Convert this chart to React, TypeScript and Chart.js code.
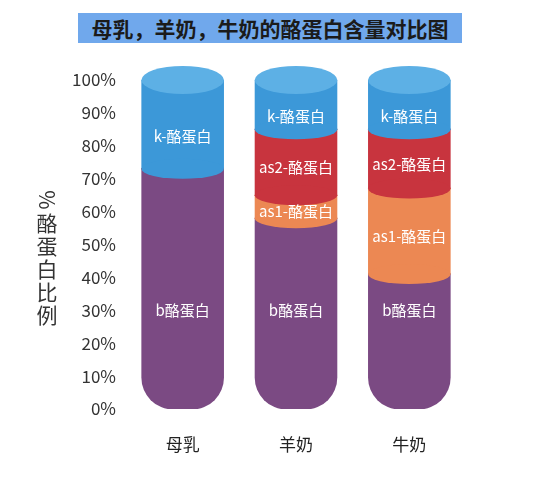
import { useEffect, useRef } from 'react';
import { Chart, registerables } from 'chart.js';

Chart.register(...registerables);

const categories = ['母乳', '羊奶', '牛奶'];
const seriesNames = ['b酪蛋白', 'as1-酪蛋白', 'as2-酪蛋白', 'k-酪蛋白'];
const bCasein = [73, 58, 41];
const as1Casein = [0, 7, 26];
const as2Casein = [0, 20, 18];
const kCasein = [27, 15, 15];
const yTicks = [0, 10, 20, 30, 40, 50, 60, 70, 80, 90, 100];

const yTitle = '%酪蛋白比例';
const chartTitle = '母乳，羊奶，牛奶的酪蛋白含量对比图';

const colors = ['#7b4a83', '#ec8853', '#c8343e', '#3c98d8'];
const topFace = '#5db0e5';
const FONT = '"Noto Sans CJK SC", "Liberation Sans", sans-serif';

const INNER_RY = 10;
const TOP_RY = 14;
const B_LABEL_AT = 30; // b labels all sit near the 30% line

// draws the curved layer fronts, the top face and the white segment labels
const cylinderPlugin = {
  id: 'cylinder',
  afterDatasetsDraw(chart: any) {
    const { ctx } = chart;
    const n = chart.data.datasets.length;
    const yScale = chart.scales.y;
    ctx.save();

    for (let i = 1; i < n; i++) {
      const ds = chart.data.datasets[i];
      chart.getDatasetMeta(i).data.forEach((bar: any, j: number) => {
        if (!(ds.data[j] > 0)) return;
        const { x, base, width } = bar.getProps(['x', 'base', 'width'], true);
        ctx.fillStyle = colors[i];
        ctx.beginPath();
        // full ellipse so the seam between the two rectangles is hidden too
        ctx.ellipse(x, base, width / 2 + 0.5, INNER_RY, 0, 0, Math.PI * 2);
        ctx.fill();
      });
    }

    // top face on whatever segment is highest
    categories.forEach((_, j) => {
      for (let i = n - 1; i >= 0; i--) {
        if (!(chart.data.datasets[i].data[j] > 0)) continue;
        const bar = chart.getDatasetMeta(i).data[j];
        const { x, y, width } = bar.getProps(['x', 'y', 'width'], true);
        ctx.fillStyle = topFace;
        ctx.beginPath();
        ctx.ellipse(x, y, width / 2 + 0.5, TOP_RY, 0, 0, Math.PI * 2);
        ctx.fill();
        break;
      }
    });

    ctx.fillStyle = '#ffffff';
    ctx.font = `15px ${FONT}`;
    ctx.textAlign = 'center';
    ctx.textBaseline = 'middle';
    for (let i = 0; i < n; i++) {
      const ds = chart.data.datasets[i];
      chart.getDatasetMeta(i).data.forEach((bar: any, j: number) => {
        if (!(ds.data[j] > 0)) return;
        const { x, y, base } = bar.getProps(['x', 'y', 'base'], true);
        let ly = (y + base) / 2 + INNER_RY / 2;
        if (i === 0) ly = yScale.getPixelForValue(B_LABEL_AT);
        else if (i === n - 1) ly = (y + base) / 2 + (TOP_RY + INNER_RY) / 2;
        ctx.fillText(ds.label, x, ly);
      });
    }

    // vertical axis title, CJK upright, % turned
    const area = chart.chartArea;
    const tx = area.left - 79;
    let ty = area.top + 120;
    ctx.fillStyle = '#333333';
    ctx.font = `21px ${FONT}`;
    for (const ch of yTitle) {
      if (ch === '%') {
        ctx.save();
        ctx.translate(tx, ty);
        ctx.rotate(Math.PI / 2);
        ctx.fillText(ch, 0, 0);
        ctx.restore();
      } else {
        ctx.fillText(ch, tx, ty);
      }
      ty += 23;
    }
    ctx.restore();
  },
};

const App = () => {
  const canvasRef = useRef<HTMLCanvasElement>(null);
  const chartRef = useRef<Chart | null>(null);

  useEffect(() => {
    if (!canvasRef.current) return;
    const ctx = canvasRef.current.getContext('2d');
    if (!ctx) return;

    if (chartRef.current) {
      chartRef.current.destroy();
    }

    const series = [bCasein, as1Casein, as2Casein, kCasein];

    chartRef.current = new Chart(ctx, {
      type: 'bar',
      data: {
        labels: categories,
        datasets: series.map((values, i) => ({
          label: seriesNames[i],
          data: values,
          backgroundColor: colors[i],
          borderWidth: 0,
          inflateAmount: 0.5,
          barPercentage: 0.72,
          categoryPercentage: 1,
          ...(i === 0
            ? {
                borderSkipped: false,
                borderRadius: { topLeft: 0, topRight: 0, bottomLeft: 32, bottomRight: 32 },
              }
            : {}),
        })),
      },
      options: {
        responsive: true,
        maintainAspectRatio: false,
        animation: false,
        layout: { padding: { left: 66, right: 79, top: 80, bottom: 0 } },
        plugins: {
          legend: { display: false },
          tooltip: { enabled: false },
          title: { display: false },
        },
        scales: {
          x: {
            stacked: true,
            grid: { display: false, drawTicks: false },
            border: { display: false },
            ticks: {
              padding: 25,
              color: '#222222',
              font: { size: 17, family: FONT },
            },
            afterFit: (s: any) => {
              s.height = 91;
            },
          },
          y: {
            stacked: true,
            min: 0,
            max: 100,
            grid: { display: false, drawTicks: false },
            border: { display: false },
            afterBuildTicks: (s: any) => {
              s.ticks = yTicks.map((v) => ({ value: v }));
            },
            ticks: {
              padding: 10,
              color: '#333333',
              font: { size: 17, family: FONT },
              callback: (v: any) => `${v}%`,
            },
            afterFit: (s: any) => {
              s.width = 60;
            },
          },
        },
      },
      plugins: [cylinderPlugin],
    });

    return () => {
      if (chartRef.current) {
        chartRef.current.destroy();
        chartRef.current = null;
      }
    };
  }, []);

  return (
    <div style={{ position: 'absolute', left: 0, top: 0, width: 545, height: 500, background: '#ffffff' }}>
      <canvas ref={canvasRef} style={{ position: 'absolute', left: 0, top: 0 }} />
      <div
        style={{
          position: 'absolute',
          left: 78,
          top: 13,
          width: 384,
          height: 30,
          lineHeight: '30px',
          background: '#70a8ec',
          color: '#1b1b1b',
          fontFamily: FONT,
          fontSize: 21,
          fontWeight: 'bold',
          textAlign: 'center',
          whiteSpace: 'nowrap',
        }}
      >
        {chartTitle}
      </div>
    </div>
  );
};

export default App;
